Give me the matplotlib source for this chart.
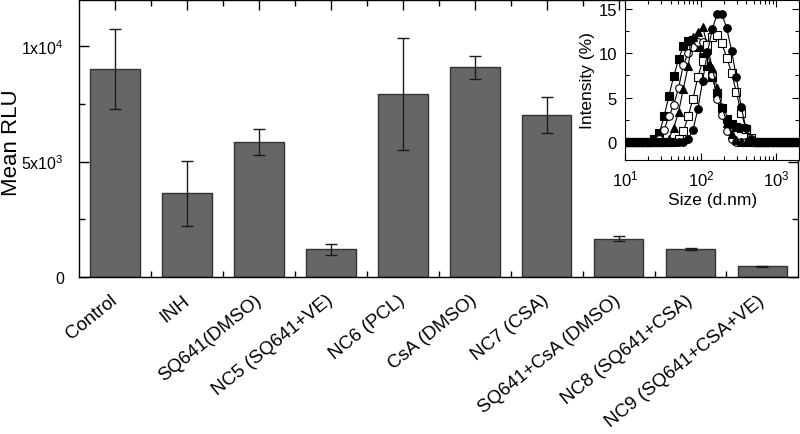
import numpy as np
import matplotlib
matplotlib.use("Agg")
import matplotlib.pyplot as plt
from matplotlib.ticker import MultipleLocator, LogLocator, NullFormatter, FixedLocator

plt.rcParams['font.family'] = ['Liberation Sans', 'DejaVu Sans']

# main bar chart data
groups = ["Control", "INH", "SQ641(DMSO)", "NC5 (SQ641+VE)", "NC6 (PCL)",
          "CsA (DMSO)", "NC7 (CSA)", "SQ641+CsA (DMSO)", "NC8 (SQ641+CSA)",
          "NC9 (SQ641+CSA+VE)"]
rlu_mean = [9000, 3620, 5830, 1200, 7920, 9090, 7030, 1660, 1210, 460]
rlu_err = [1730, 1410, 560, 240, 2430, 500, 780, 110, 30, 15]

# inset DLS data (size bins in nm, intensity in %)
size_nm = [10.10, 11.70, 13.54, 15.69, 18.17, 21.04, 24.36, 28.21, 32.67, 37.84,
           43.82, 50.75, 58.77, 68.06, 78.82, 91.28, 105.7, 122.4, 141.8, 164.2,
           190.1, 220.2, 255.0, 295.3, 342.0, 396.1, 458.7, 531.2, 615.1, 712.4,
           825.0, 955.4, 1106, 1281, 1484, 1718, 1990]
int_fsq = [0, 0, 0, 0, 0, 0, 0.3, 1.0, 2.9, 5.2,
           7.4, 9.3, 10.8, 11.4, 11.5, 10.7, 9.6, 8.6, 7.3, 5.5,
           3.8, 2.6, 2.0, 1.7, 1.6, 1.5, 0.3, 0, 0, 0,
           0, 0, 0, 0, 0, 0, 0]
int_ocir = [0, 0, 0, 0, 0, 0, 0, 0.4, 1.4, 2.9,
            4.2, 6.1, 8.7, 10.0, 10.7, 11.3, 11.3, 10.1, 7.6, 4.9,
            3.0, 1.2, 0.3, 0, 0, 0, 0, 0, 0, 0,
            0, 0, 0, 0, 0, 0, 0]
int_tri = [0, 0, 0, 0, 0, 0, 0, 0, 0, 0.4,
           1.6, 3.4, 6.0, 8.6, 11.8, 12.4, 13.0, 10.8, 8.3, 6.1,
           4.0, 2.2, 0.9, 0.2, 0, 0, 0, 0, 0, 0,
           0, 0, 0, 0, 0, 0, 0]
int_osq = [0, 0, 0, 0, 0, 0, 0, 0, 0, 0,
           0, 0.3, 1.2, 2.9, 4.9, 7.3, 9.1, 10.9, 11.8, 12.0,
           11.1, 9.5, 7.8, 5.6, 3.3, 1.5, 0.5, 0, 0, 0,
           0, 0, 0, 0, 0, 0, 0]
int_fcir = [0, 0, 0, 0, 0, 0, 0, 0, 0, 0,
            0, 0, 0, 0.3, 1.4, 3.7, 6.9, 10.1, 12.7, 14.4,
            14.4, 12.8, 10.3, 7.3, 3.9, 1.6, 0.3, 0, 0, 0,
            0, 0, 0, 0, 0, 0, 0]

fig = plt.figure(figsize=(8, 4.35), dpi=100)
ax = fig.add_axes([0.099, 0.361, 0.899, 0.637])

x = np.arange(len(groups))
ax.bar(x, rlu_mean, width=0.69, color='#666666', edgecolor='#333333', linewidth=1, zorder=2)
ax.errorbar(x, rlu_mean, yerr=rlu_err, fmt='none', ecolor='#1a1a1a', elinewidth=1,
            capsize=4, capthick=1, zorder=3)

ax.set_xlim(-0.5, len(groups) - 0.5)
ax.set_ylim(0, 12000)
ax.set_yticks([0, 5000, 10000])
ax.set_yticklabels(['0', r'$\mathregular{5x10^{3}}$', r'$\mathregular{1x10^{4}}$'], fontsize=11.5)
ax.yaxis.set_minor_locator(MultipleLocator(2500))
ax.set_xticks(x)
ax.set_xticklabels(groups, rotation=39, ha='right', va='center', rotation_mode='anchor', fontsize=13.5)
ax.xaxis.set_minor_locator(FixedLocator(x[:-1] + 0.5))
ax.tick_params(which='both', direction='in', top=True, right=True, width=1)
ax.tick_params(which='major', length=7)
ax.tick_params(which='minor', length=4)
ax.tick_params(axis='x', which='major', pad=15)
ax.tick_params(axis='y', which='major', pad=11)
ax.set_ylabel('Mean RLU', fontsize=16)
ax.yaxis.set_label_coords(-0.080, 0.49)
for s in ax.spines.values():
    s.set_linewidth(1)

# inset
ins = fig.add_axes([0.7815, 0.630, 0.2175, 0.368])
ins.set_facecolor('white')
ins.set_zorder(5)
mk = dict(color='black', lw=0.8, markersize=5.5, markeredgecolor='black', markeredgewidth=0.8)
ins.plot(size_nm, int_fsq, marker='s', markerfacecolor='black', **mk)
ins.plot(size_nm, int_ocir, marker='o', markerfacecolor='white', **mk)
ins.plot(size_nm, int_tri, marker='^', markerfacecolor='black', **mk)
ins.plot(size_nm, int_osq, marker='s', markerfacecolor='white', **mk)
ins.plot(size_nm, int_fcir, marker='o', markerfacecolor='black', **mk)
ins.set_xscale('log')
ins.set_xlim(10, 2000)
ins.set_ylim(-2, 16)
ins.set_yticks([0, 5, 10, 15])
ins.yaxis.set_minor_locator(MultipleLocator(2.5))
ins.xaxis.set_major_locator(LogLocator(base=10, numticks=5))
ins.xaxis.set_minor_locator(LogLocator(base=10, subs=np.arange(2, 10), numticks=20))
ins.xaxis.set_minor_formatter(NullFormatter())
ins.tick_params(which='both', direction='in', top=True, right=True, labelsize=12, width=0.8)
ins.tick_params(which='major', length=5)
ins.tick_params(which='minor', length=3)
ins.tick_params(axis='y', which='major', pad=6)
ins.tick_params(axis='x', which='major', pad=6)
ins.set_xlabel('Size (d.nm)', fontsize=12.5, labelpad=3)
ins.set_ylabel('Intensity (%)', fontsize=12.5)
ins.yaxis.set_label_coords(-0.175, 0.5)
for s in ins.spines.values():
    s.set_linewidth(0.8)

fig.savefig("out.png", dpi=100)
